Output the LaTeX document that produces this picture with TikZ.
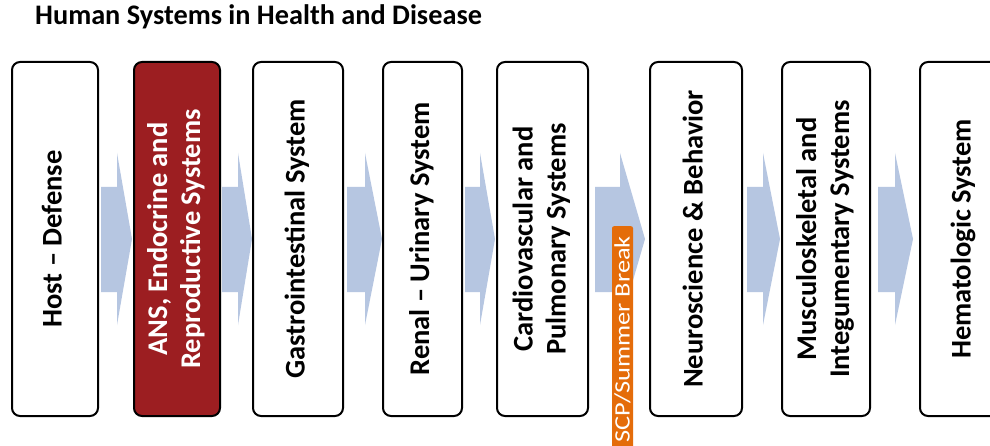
\documentclass[tikz,border=0pt]{standalone}
\usepackage{fontspec}
\setmainfont{Carlito}
\usetikzlibrary{calc}
\definecolor{arrowblue}{RGB}{182,198,225}
\definecolor{darkred}{RGB}{156,30,33}
\definecolor{breakorange}{RGB}{228,108,10}
\tikzset{
  sysbox/.style={draw=black, line width=2pt, rounded corners=8pt, fill=white,
    minimum height=354pt, inner sep=0pt, font=\fontsize{28.5}{33}\selectfont\bfseries},
  flowarrow/.style={fill=arrowblue, draw=none},
}
\newcommand{\vtext}[1]{\rotatebox{90}{\begin{tabular}{@{}c@{}}#1\end{tabular}}}
\begin{document}
\begin{tikzpicture}[x=1pt, y=-1pt]
\useasboundingbox (0,0) rectangle (990,446);
\clip (0,0) rectangle (990,446);
\fill[white] (0,0) rectangle (990,446);

\node[anchor=base west, inner sep=0pt, font=\fontsize{28.3}{33}\selectfont\bfseries] (title) at (35,25) {Human Systems in Health and Disease};

% arrows (behind boxes)
\foreach \xa/\xb/\xc in {101/117/132, 222/238/252, 347/365/382, 465/480/495, 595/620/645, 747/763/780, 878/895/913}{
  \fill[flowarrow] (\xa,187) -- (\xb,187) -- (\xb,153) -- (\xc,239) -- (\xb,325) -- (\xb,292) -- (\xa,292) -- cycle;
}

\node[sysbox, minimum width=86pt] (b1) at (55,239) {\vtext{Host -- Defense}};
\node[sysbox, minimum width=86pt, fill=darkred, text=white] (b2) at (177,239) {\vtext{ANS, Endocrine and\\Reproductive Systems}};
\node[sysbox, minimum width=90pt] (b3) at (298,239) {\vtext{Gastrointestinal System}};
\node[sysbox, minimum width=79pt] (b4) at (422.5,239) {\vtext{Renal -- Urinary System}};
\node[sysbox, minimum width=91pt] (b5) at (542.5,239) {\vtext{Cardiovascular and\\Pulmonary Systems}};
\node[sysbox, minimum width=92pt] (b6) at (696,239) {\vtext{Neuroscience \& Behavior}};
\node[sysbox, minimum width=88pt] (b7) at (826,239) {\vtext{Musculoskeletal and\\Integumentary Systems}};
\node[sysbox, minimum width=88pt] (b8) at (964,239) {\vtext{Hematologic System}};

\node[rotate=90, anchor=east, fill=breakorange, text=white, rounded corners=2pt,
  minimum height=21pt, inner ysep=0pt, inner xsep=0pt,
  font=\fontsize{22}{22}\selectfont] (brk) at (622.5,226) {\hspace*{40pt}\scalebox{1.2}[1]{SCP/Summer Break}\hspace*{10pt}};
\end{tikzpicture}
\end{document}
